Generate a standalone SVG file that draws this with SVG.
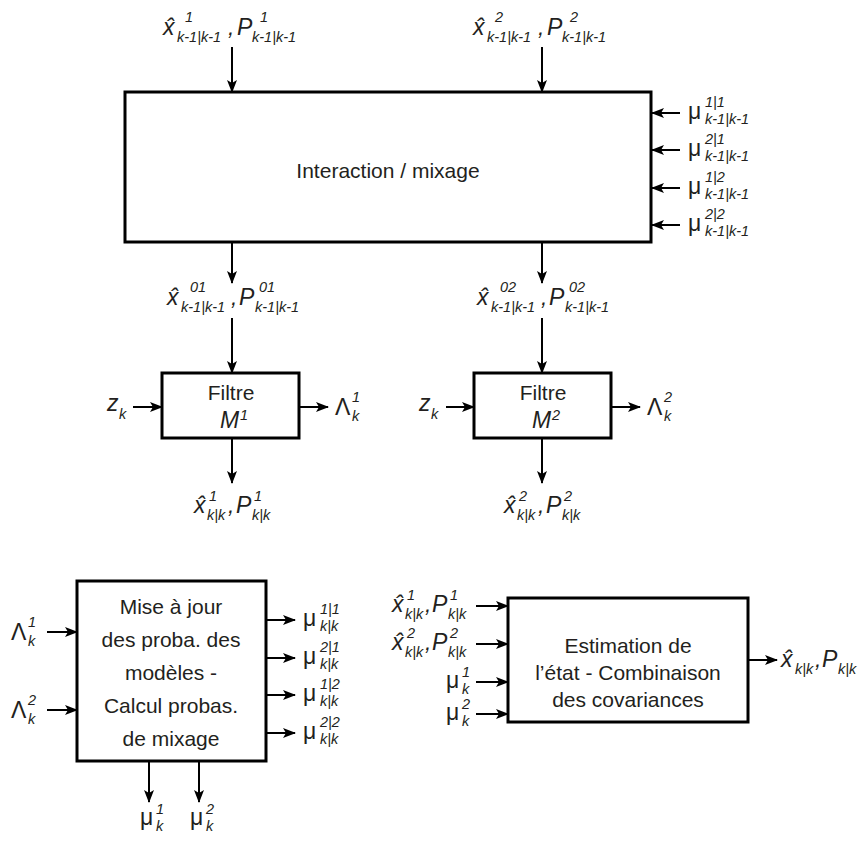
<svg xmlns="http://www.w3.org/2000/svg" width="861" height="841" viewBox="0 0 861 841">
<defs>
<marker id="ah" markerUnits="userSpaceOnUse" markerWidth="13" markerHeight="10" refX="12" refY="5" orient="auto">
<path d="M0,0 L13,5 L0,10 L3,5 z" fill="#000"/>
</marker>
<style>
text{font-family:"Liberation Sans",Arial,sans-serif;fill:#231f20}
.box{fill:#fff;stroke:#000;stroke-width:3}
.c line{stroke:#000;stroke-width:2;marker-end:url(#ah)}
.lbl{font-size:21px;text-anchor:middle}
.m{font-style:italic;font-size:23px}
.s{font-style:italic;font-size:14.5px}
.g{font-size:23px}
</style>
</defs>
<rect width="861" height="841" fill="#fff"/>

<g id="interaction">
<rect class="box" x="125" y="92" width="526" height="150"/>
<text class="lbl" x="388" y="178">Interaction / mixage</text>
</g>
<g id="filtre1">
<rect class="box" x="162" y="373" width="137" height="65"/>
<text class="lbl" x="231" y="400">Filtre</text>
<text class="m" x="220" y="428">M</text><text class="s" x="240" y="420">1</text>
</g>
<g id="filtre2">
<rect class="box" x="474" y="373" width="137" height="65"/>
<text class="lbl" x="543" y="400">Filtre</text>
<text class="m" x="532" y="428">M</text><text class="s" x="552" y="420">2</text>
</g>
<g id="miseajour">
<rect class="box" x="77" y="581" width="189" height="180"/>
<text class="lbl" x="171" y="614">Mise à jour</text>
<text class="lbl" x="171" y="647">des proba. des</text>
<text class="lbl" x="171" y="680">modèles -</text>
<text class="lbl" x="171" y="713">Calcul probas.</text>
<text class="lbl" x="171" y="746">de mixage</text>
</g>
<g id="estimation">
<rect class="box" x="508" y="598" width="240" height="124"/>
<text class="lbl" x="628" y="653">Estimation de</text>
<text class="lbl" x="628" y="680">l’état - Combinaison</text>
<text class="lbl" x="628" y="707">des covariances</text>
</g>

<g id="connectors" class="c">
<line x1="232" y1="47" x2="232" y2="92"/>
<line x1="542" y1="47" x2="542" y2="92"/>
<line x1="680" y1="113" x2="652" y2="113"/>
<line x1="680" y1="150" x2="652" y2="150"/>
<line x1="680" y1="188" x2="652" y2="188"/>
<line x1="680" y1="225" x2="652" y2="225"/>
<line x1="232" y1="242" x2="232" y2="283"/>
<line x1="542" y1="242" x2="542" y2="283"/>
<line x1="232" y1="318" x2="232" y2="373"/>
<line x1="542" y1="318" x2="542" y2="373"/>
<line x1="133" y1="407" x2="162" y2="407"/>
<line x1="446" y1="407" x2="474" y2="407"/>
<line x1="299" y1="407" x2="328" y2="407"/>
<line x1="611" y1="407" x2="640" y2="407"/>
<line x1="232" y1="438" x2="232" y2="483"/>
<line x1="542" y1="438" x2="542" y2="483"/>
<line x1="47" y1="632" x2="77" y2="632"/>
<line x1="47" y1="710" x2="77" y2="710"/>
<line x1="266" y1="620" x2="295" y2="620"/>
<line x1="266" y1="658" x2="295" y2="658"/>
<line x1="266" y1="695" x2="295" y2="695"/>
<line x1="266" y1="733" x2="295" y2="733"/>
<line x1="149" y1="761" x2="149" y2="802"/>
<line x1="199" y1="761" x2="199" y2="802"/>
<line x1="476" y1="606" x2="508" y2="606"/>
<line x1="476" y1="644" x2="508" y2="644"/>
<line x1="476" y1="682" x2="508" y2="682"/>
<line x1="476" y1="714" x2="508" y2="714"/>
<line x1="748" y1="660" x2="777" y2="660"/>
</g>

<g id="lbl-top1">
<text class="m" x="163" y="35">x̂</text><text class="s" x="185" y="22">1</text><text class="s" x="177" y="42">k-1|k-1</text>
<text class="m" x="228" y="35">,</text>
<text class="m" x="237" y="35">P</text><text class="s" x="260" y="22">1</text><text class="s" x="252" y="42">k-1|k-1</text>
</g>
<g id="lbl-top2" transform="translate(310,0)">
<text class="m" x="163" y="35">x̂</text><text class="s" x="185" y="22">2</text><text class="s" x="177" y="42">k-1|k-1</text>
<text class="m" x="228" y="35">,</text>
<text class="m" x="237" y="35">P</text><text class="s" x="260" y="22">2</text><text class="s" x="252" y="42">k-1|k-1</text>
</g>
<g id="lbl-mid1" transform="translate(0,270)">
<text class="m" x="167" y="35">x̂</text><text class="s" x="190" y="22">01</text><text class="s" x="181" y="42">k-1|k-1</text>
<text class="m" x="231" y="35">,</text>
<text class="m" x="239" y="35">P</text><text class="s" x="259" y="22">01</text><text class="s" x="255" y="42">k-1|k-1</text>
</g>
<g id="lbl-mid2" transform="translate(310,270)">
<text class="m" x="167" y="35">x̂</text><text class="s" x="190" y="22">02</text><text class="s" x="181" y="42">k-1|k-1</text>
<text class="m" x="231" y="35">,</text>
<text class="m" x="239" y="35">P</text><text class="s" x="259" y="22">02</text><text class="s" x="255" y="42">k-1|k-1</text>
</g>

<g id="lbl-mu-in">
<g transform="translate(688,113)"><text class="g" x="0" y="6">μ</text><text class="s" x="17" y="-6">1|1</text><text class="s" x="17" y="11">k-1|k-1</text></g>
<g transform="translate(688,150)"><text class="g" x="0" y="6">μ</text><text class="s" x="17" y="-6">2|1</text><text class="s" x="17" y="11">k-1|k-1</text></g>
<g transform="translate(688,188)"><text class="g" x="0" y="6">μ</text><text class="s" x="17" y="-6">1|2</text><text class="s" x="17" y="11">k-1|k-1</text></g>
<g transform="translate(688,225)"><text class="g" x="0" y="6">μ</text><text class="s" x="17" y="-6">2|2</text><text class="s" x="17" y="11">k-1|k-1</text></g>
</g>

<g id="lbl-filters">
<text class="m" x="107" y="411">z</text><text class="s" x="119" y="419">k</text>
<text class="m" x="419" y="411">z</text><text class="s" x="431" y="419">k</text>
<text class="g" x="335" y="415">Λ</text><text class="s" x="352" y="402">1</text><text class="s" x="352" y="421">k</text>
<text class="g" x="647" y="415">Λ</text><text class="s" x="664" y="402">2</text><text class="s" x="664" y="421">k</text>
</g>

<g id="lbl-out1" transform="translate(194,513)">
<text class="m" x="0" y="0">x̂</text><text class="s" x="15" y="-12">1</text><text class="s" x="13" y="7">k|k</text>
<text class="m" x="34" y="0">,</text>
<text class="m" x="42" y="0">P</text><text class="s" x="60" y="-12">1</text><text class="s" x="58" y="7">k|k</text>
</g>
<g id="lbl-out2" transform="translate(504,513)">
<text class="m" x="0" y="0">x̂</text><text class="s" x="15" y="-12">2</text><text class="s" x="13" y="7">k|k</text>
<text class="m" x="34" y="0">,</text>
<text class="m" x="42" y="0">P</text><text class="s" x="60" y="-12">2</text><text class="s" x="58" y="7">k|k</text>
</g>

<g id="lbl-mise">
<text class="g" x="11" y="640">Λ</text><text class="s" x="28" y="627">1</text><text class="s" x="28" y="646">k</text>
<text class="g" x="11" y="718">Λ</text><text class="s" x="28" y="705">2</text><text class="s" x="28" y="724">k</text>
<g transform="translate(303,620)"><text class="g" x="0" y="6">μ</text><text class="s" x="17" y="-6">1|1</text><text class="s" x="17" y="11">k|k</text></g>
<g transform="translate(303,658)"><text class="g" x="0" y="6">μ</text><text class="s" x="17" y="-6">2|1</text><text class="s" x="17" y="11">k|k</text></g>
<g transform="translate(303,695)"><text class="g" x="0" y="6">μ</text><text class="s" x="17" y="-6">1|2</text><text class="s" x="17" y="11">k|k</text></g>
<g transform="translate(303,733)"><text class="g" x="0" y="6">μ</text><text class="s" x="17" y="-6">2|2</text><text class="s" x="17" y="11">k|k</text></g>
<g transform="translate(140,825)"><text class="g" x="0" y="0">μ</text><text class="s" x="16" y="-11">1</text><text class="s" x="16" y="6">k</text></g>
<g transform="translate(190,825)"><text class="g" x="0" y="0">μ</text><text class="s" x="16" y="-11">2</text><text class="s" x="16" y="6">k</text></g>
</g>

<g id="lbl-est">
<g transform="translate(392,612)">
<text class="m" x="0" y="0">x̂</text><text class="s" x="15" y="-12">1</text><text class="s" x="13" y="7">k|k</text>
<text class="m" x="33" y="0">,</text>
<text class="m" x="40" y="0">P</text><text class="s" x="58" y="-12">1</text><text class="s" x="56" y="7">k|k</text>
</g>
<g transform="translate(392,650)">
<text class="m" x="0" y="0">x̂</text><text class="s" x="15" y="-12">2</text><text class="s" x="13" y="7">k|k</text>
<text class="m" x="33" y="0">,</text>
<text class="m" x="40" y="0">P</text><text class="s" x="58" y="-12">2</text><text class="s" x="56" y="7">k|k</text>
</g>
<g transform="translate(446,682)"><text class="g" x="0" y="6">μ</text><text class="s" x="16" y="-5">1</text><text class="s" x="16" y="12">k</text></g>
<g transform="translate(446,714)"><text class="g" x="0" y="6">μ</text><text class="s" x="16" y="-5">2</text><text class="s" x="16" y="12">k</text></g>
<g transform="translate(781,667)">
<text class="m" x="0" y="0">x̂</text><text class="s" x="14" y="7">k|k</text>
<text class="m" x="34" y="0">,</text>
<text class="m" x="41" y="0">P</text><text class="s" x="57" y="7">k|k</text>
</g>
</g>
</svg>
